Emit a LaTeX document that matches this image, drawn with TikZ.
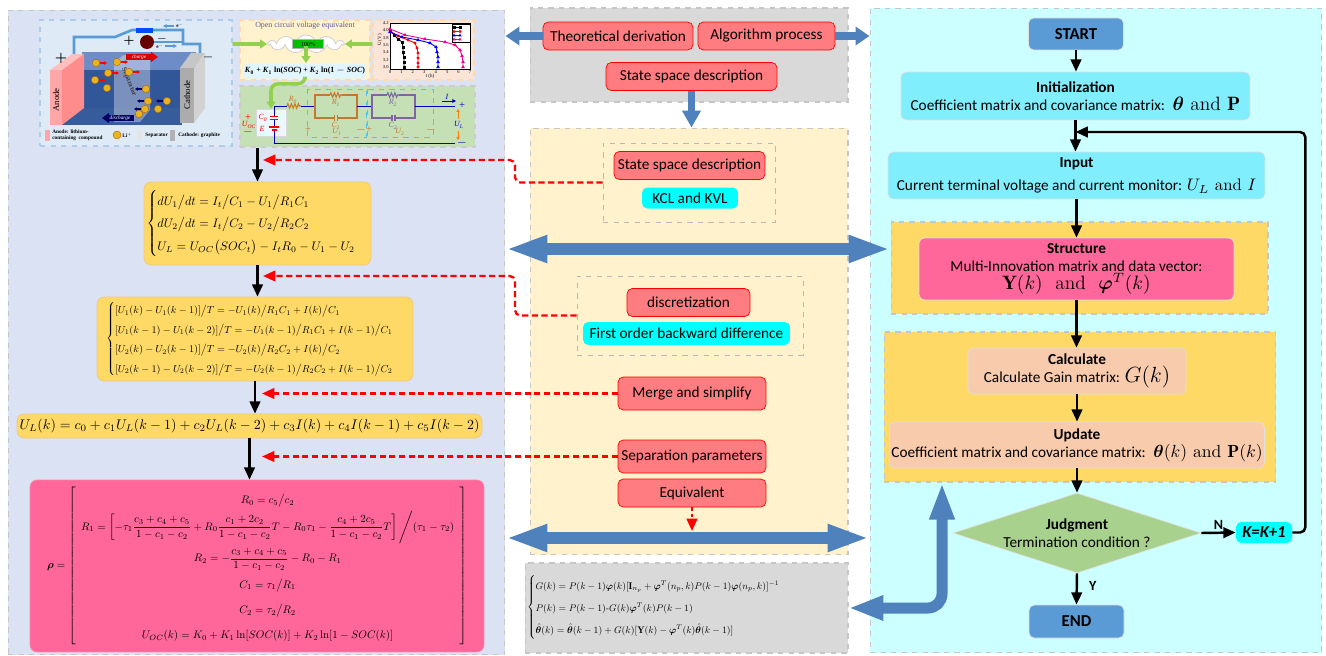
\RequirePackage{fix-cm}
\documentclass[tikz,border=0pt]{standalone}
\usepackage{amsmath}
\usepackage{bm}
\usepackage{graphicx}
\usepackage{fontspec}
\setsansfont{Carlito}
\newfontfamily\tnr{Liberation Serif}
\usetikzlibrary{arrows.meta,shapes.geometric,shapes.symbols,decorations.pathmorphing,plotmarks}
\definecolor{leftbg}{RGB}{218,226,243}
\definecolor{graybg}{RGB}{217,217,217}
\definecolor{yelbg}{RGB}{255,242,204}
\definecolor{cyanbg}{RGB}{204,255,255}
\definecolor{boxred}{RGB}{255,124,128}
\definecolor{kcl}{RGB}{0,255,255}
\definecolor{eqyel}{RGB}{255,217,102}
\definecolor{eqedge}{RGB}{240,200,130}
\definecolor{rhopink}{RGB}{255,102,153}
\definecolor{initc}{RGB}{128,238,252}
\definecolor{termc}{RGB}{91,155,213}
\definecolor{peach}{RGB}{248,203,173}
\definecolor{judg}{RGB}{169,209,142}
\definecolor{arrblue}{RGB}{79,129,189}
\definecolor{batbg}{RGB}{222,235,247}
\definecolor{plotbg}{RGB}{251,229,214}
\definecolor{circbg}{RGB}{197,224,180}
\definecolor{wireblue}{RGB}{91,155,213}
\definecolor{elecA}{RGB}{47,85,151}
\definecolor{elecB}{RGB}{110,140,200}
\definecolor{lithium}{RGB}{230,180,30}
\definecolor{leafgreen}{RGB}{146,208,80}
\definecolor{rcorange}{RGB}{197,120,50}
\definecolor{rcpurple}{RGB}{128,100,162}
\begin{document}
\begin{tikzpicture}[x=0.02cm,y=-0.02cm,
  panel/.style={draw=gray!45,dashed,line width=0.6pt},
  txt/.style={font=\sffamily\fontsize{8.7}{10.4}\selectfont},
  rbox/.style={txt,draw=red,fill=boxred,rounded corners=3pt,inner sep=1pt,minimum height=0.56cm},
  cbox/.style={txt,fill=kcl,rounded corners=3pt,inner sep=1pt,minimum height=0.42cm},
  grp/.style={draw=gray!55,dashed,line width=0.5pt},
  eqbox/.style={fill=eqyel,draw=eqedge,rounded corners=4pt,inner sep=1pt},
  fbox/.style={txt,draw=gray!25,rounded corners=3pt,align=center,inner sep=1pt},
  blk/.style={-{Triangle[length=7pt,width=6pt]},line width=1.4pt},
  rdash/.style={red,line width=1.3pt,dash pattern=on 3.5pt off 2pt,-{Triangle[length=7pt,width=6pt]}},
  thinblue/.style={draw=arrblue,line width=4.5pt,-{Triangle[length=0.28cm,width=0.36cm]}},
  fatblue/.style={draw=arrblue,line width=0.24cm,{Triangle[length=0.84cm,width=0.5cm]}-{Triangle[length=0.84cm,width=0.5cm]}},
  leaf/.style={draw=leafgreen,line width=2pt,-{Triangle[length=4pt,width=5pt]}},
  mini/.style={font=\tnr\bfseries\fontsize{3}{3.4}\selectfont,inner sep=0pt},
  cl/.style={font=\tnr\itshape\fontsize{4.5}{5}\selectfont,inner sep=0pt},
  wire/.style={draw=blue!75!black,line width=0.5pt}
]
\useasboundingbox (0,0) rectangle (1326,656);
% panels
\node[panel,fill=leftbg,minimum width=9.94cm,minimum height=12.9cm] (left) at (256.5,332.5) {};
\node[panel,fill=graybg,minimum width=6.36cm,minimum height=1.88cm] (gtop) at (689,55) {};
\node[panel,fill=yelbg,minimum width=6.36cm,minimum height=8.54cm] (mid) at (689,341.5) {};
\node[panel,fill=graybg,minimum width=6.46cm,minimum height=1.8cm] (bot) at (686.5,608) {};
\node[panel,fill=cyanbg,minimum width=9.04cm,minimum height=12.9cm] (right) at (1096,330.5) {};

% battery sketch
\node[panel,draw=wireblue!50,fill=batbg,minimum width=3.84cm,minimum height=2.52cm] (bat) at (136,83) {};
\draw[wireblue,line width=1.5pt] (74,58) |- (115,37) -- (132,30) -- (183,30) |- (200,44) -- (200,55);
\fill[blue!70!cyan] (136,27.5) rectangle (153,33);
\draw[wireblue,line width=1pt] (154,42) -- (183,42);
\fill[red!40!black] (147,42) circle[radius=0.14cm];
\node[mini,font=\bfseries\fontsize{6}{6}\selectfont] (mplus) at (129,41) {+};
\node[mini,font=\bfseries\fontsize{6}{6}\selectfont] (mminus) at (162,39) {$-$};
\node[mini] (eA) at (180,25) {e$^-$};
\draw[wireblue,line width=0.6pt,-{Triangle[length=2pt,width=2pt]}] (174,26) -- (163,26);
\node[mini] (eB) at (160,46) {e$^-$};
\draw[wireblue,line width=0.6pt,-{Triangle[length=2pt,width=2pt]}] (165,46) -- (177,46);
\fill[elecB] (82,52) rectangle (196,108);
\fill[elecA,opacity=0.95] (62,70) rectangle (182,125);
\fill[white,opacity=0.35] (114,62) -- (124,55) -- (150,55) -- (150,110) -- (140,122) -- (114,122) -- cycle;
\node[mini,font=\tnr\bfseries\fontsize{4}{4}\selectfont,rotate=-68,text=black!75] (tsep) at (129,82) {Separator};
\fill[red!25] (50,70) -- (72,54) -- (84,54) -- (62,70) -- cycle;
\fill[red!45] (62,70) -- (84,54) -- (84,108) -- (62,125) -- cycle;
\fill[red!35] (50,70) rectangle (62,125);
\node[mini,font=\tnr\fontsize{5}{5}\selectfont,rotate=90] (tan) at (56,100) {Anode};
\fill[gray!45] (180,68) -- (191,53) -- (205,53) -- (194,68) -- cycle;
\fill[gray!65] (180,68) rectangle (194,123);
\fill[gray!35] (194,68) -- (205,53) -- (205,108) -- (194,123) -- cycle;
\node[mini,font=\tnr\fontsize{5}{5}\selectfont,rotate=90] (tca) at (187,95) {Cathode};
\node[mini,font=\bfseries\fontsize{7}{7}\selectfont] (aplus) at (61,58) {+};
\node[mini,font=\bfseries\fontsize{7}{7}\selectfont] (cminus) at (208,57) {$-$};
\fill[lithium,draw=orange!70!black,line width=0.2pt] (96,63) circle[radius=0.075cm] (117,62) circle[radius=0.075cm]
  (108,73) circle[radius=0.075cm] (129,72) circle[radius=0.075cm] (95,80) circle[radius=0.075cm]
  (107,88) circle[radius=0.075cm] (146,89) circle[radius=0.075cm] (148,101) circle[radius=0.075cm]
  (167,101) circle[radius=0.075cm] (145,109) circle[radius=0.075cm] (158,109) circle[radius=0.075cm]
  (139,114) circle[radius=0.075cm];
\draw[red,line width=0.7pt,-{Triangle[length=1.6pt,width=1.8pt]}] (100,63) -- (107,63);
\draw[red,line width=0.7pt,-{Triangle[length=1.6pt,width=1.8pt]}] (121,62) -- (128,62);
\draw[red,line width=0.7pt,-{Triangle[length=1.6pt,width=1.8pt]}] (112,73) -- (119,73);
\draw[red,line width=0.7pt,-{Triangle[length=1.6pt,width=1.8pt]}] (133,72) -- (140,72);
\draw[red,line width=0.7pt,-{Triangle[length=1.6pt,width=1.8pt]}] (99,80) -- (106,80);
\draw[blue!40!black,line width=0.7pt,-{Triangle[length=1.6pt,width=1.8pt]}] (142,89) -- (135,89);
\draw[blue!40!black,line width=0.7pt,-{Triangle[length=1.6pt,width=1.8pt]}] (144,101) -- (137,101);
\draw[blue!40!black,line width=0.7pt,-{Triangle[length=1.6pt,width=1.8pt]}] (163,101) -- (156,101);
\draw[blue!40!black,line width=0.7pt,-{Triangle[length=1.6pt,width=1.8pt]}] (141,109) -- (134,109);
\draw[red!85!black,line width=3pt,-{Triangle[length=4pt,width=5.5pt]}] (126,57) -- (158,57);
\node[mini,font=\tnr\itshape\fontsize{3}{3}\selectfont,text=white] (tch) at (139,57) {charge};
\draw[blue!40!black,line width=3pt,-{Triangle[length=4pt,width=5.5pt]}] (134,118) -- (102,118);
\node[mini,font=\tnr\itshape\fontsize{3}{3}\selectfont,text=white] (tdis) at (120,118) {discharge};
\fill[red!35] (45,130) rectangle (50,141);
\node[mini,align=left,anchor=west] (lgA) at (52,135.5) {Anode: lithium-\\containing\ \ compound};
\fill[lithium,draw=orange!70!black,line width=0.2pt] (117,135) circle[radius=0.08cm];
\node[mini,anchor=west] (lgB) at (122,135) {Li$^+$};
\fill[gray!20] (137,130) rectangle (142,141);
\node[mini,anchor=west] (lgC) at (145,135) {Separator};
\fill[gray!60] (170,130) rectangle (175,141);
\node[mini,anchor=west] (lgD) at (178,135) {Cathode: graphite};

% open circuit voltage
\node[panel,draw=orange!30,fill=yelbg,minimum width=2.6cm,minimum height=1.2cm] (ocv) at (305,50) {};
\node[mini,font=\tnr\fontsize{4.5}{5}\selectfont,text=gray!70!blue] (ocvt) at (305,26) {Open circuit voltage equivalent};
\node[cloud,cloud puffs=11,aspect=4.5,fill=white,draw=gray!40,minimum width=1.5cm,minimum height=0.36cm,inner sep=0pt] (cloudn) at (306,44) {};
\node[fill=green!75!black,draw=gray!60,minimum width=0.62cm,minimum height=0.17cm,inner sep=0pt,font=\tnr\fontsize{3.5}{4}\selectfont] (cell) at (308,44) {100\%};
\node[fill=cyan!12,rounded corners=2pt,minimum width=2.44cm,minimum height=0.3cm,inner sep=0pt,font=\tnr\bfseries\fontsize{4.5}{5}\selectfont] (kform) at (305,71)
  {\textit{K}\textsubscript{0} + \textit{K}\textsubscript{1} ln(\textit{SOC}) + \textit{K}\textsubscript{2} ln(1 $-$ \textit{SOC})};

% discharge curves
\node[panel,draw=orange!30,fill=plotbg,minimum width=2.02cm,minimum height=1.2cm] (plot) at (423.5,50) {};
\draw[line width=0.3pt,fill=white] (390,23) rectangle (470,69);
\foreach \v [count=\i from 0] in {4.2,4.0,3.8,3.6,3.4,3.2,3.0}
  \node[mini,font=\tnr\fontsize{2.6}{3}\selectfont,anchor=east] (yt\i) at (389,{23+7.33*\i}) {\v};
\foreach \i in {0,...,7}
  \node[mini,font=\tnr\fontsize{2.6}{3}\selectfont] (xt\i) at ({390+11.43*\i},72) {\i};
\node[mini,font=\tnr\fontsize{2.8}{3}\selectfont,rotate=90] (ylab) at (380,40) {U (V)};
\node[mini,font=\tnr\fontsize{2.8}{3}\selectfont] (xlab) at (430,76) {t (h)};
\draw[black,line width=0.5pt] plot[mark=square*,mark size=0.6pt] coordinates {(390,30) (394,35) (398,39) (402,42) (403,47) (403,52) (404,57) (404,62) (404,67)};
\draw[red,line width=0.5pt] plot[mark=*,mark size=0.6pt] coordinates {(390,31) (398,36) (408,40) (415,43) (417,48) (418,53) (418,58) (418,63) (418,67)};
\draw[blue,line width=0.5pt] plot[mark=triangle*,mark size=0.7pt] coordinates {(390,32) (402,37) (418,40) (430,43) (436,47) (437,52) (438,57) (438,62) (438,67)};
\draw[magenta,line width=0.5pt] plot[mark=triangle*,mark size=0.7pt] coordinates {(390,29) (405,35) (425,39) (445,42) (455,45) (460,50) (462,56) (463,62) (463,67)};
\draw[line width=0.3pt,fill=white] (452,24) rectangle (470,42);
\draw[black,line width=0.4pt] plot[mark=square*,mark size=0.6pt] coordinates {(454,27.5) (460,27.5)};
\draw[red,line width=0.4pt] plot[mark=*,mark size=0.6pt] coordinates {(454,31.5) (460,31.5)};
\draw[blue,line width=0.4pt] plot[mark=triangle*,mark size=0.7pt] coordinates {(454,35.5) (460,35.5)};
\draw[magenta,line width=0.4pt] plot[mark=triangle*,mark size=0.7pt] coordinates {(454,39.5) (460,39.5)};

% equivalent circuit
\node[panel,draw=gray!40,fill=circbg,minimum width=4.7cm,minimum height=1.22cm] (circ) at (357.5,116.5) {};
\node[fill=cyan!8,draw=gray!30,minimum width=0.6cm,minimum height=0.54cm,inner sep=0pt] (c0box) at (271,122.5) {};
\draw[wire] (274,109) -- (274,106) -- (287,106);
\draw[rcorange,line width=0.6pt,decorate,decoration={zigzag,segment length=2pt,amplitude=1.3pt}] (287,106) -- (301,106);
\draw[wire] (301,106) -- (315,106);
\draw[wire] (274,109) -- (274,116.5) (274,119.5) -- (274,127) (274,130) -- (274,143) -- (455,143);
\draw[red,line width=0.6pt] (270,116.5) -- (278,116.5) (270,119.5) -- (278,119.5);
\draw[red,line width=0.6pt] (269,127) -- (279,127) (271.5,130) -- (276.5,130);
\node[cl,text=red] (lC0) at (263,118) {C\textsubscript{0}};
\node[cl,text=red] (lE) at (262,129) {E};
\node[cl,text=rcorange] (lR0) at (293,100) {R\textsubscript{0}};
\draw[cyan!70,dashed,line width=0.4pt] (307,89) rectangle (366,137);
\draw[rcorange,line width=0.6pt] (330,95) -| (315,118) -- (334.5,118) (337.5,118) -| (357,95) -- (342,95);
\draw[rcorange,line width=0.6pt,decorate,decoration={zigzag,segment length=2pt,amplitude=1.3pt}] (330,95) -- (342,95);
\draw[rcorange,line width=0.6pt] (334.5,115) -- (334.5,121) (337.5,115) -- (337.5,121);
\node[cl,text=rcorange] (lR1) at (336,103) {R\textsubscript{1}};
\node[cl,text=rcorange] (lC1) at (336,126) {C\textsubscript{1}};
\draw[wire] (357,106) -- (372,106);
\draw[cyan!70,dashed,line width=0.4pt] (367,89) rectangle (433,137);
\draw[rcpurple,line width=0.6pt] (387,95) -| (372,118) -- (392,118) (395,118) -| (415,95) -- (399,95);
\draw[rcpurple,line width=0.6pt,decorate,decoration={zigzag,segment length=2pt,amplitude=1.3pt}] (387,95) -- (399,95);
\draw[rcpurple,line width=0.6pt] (392,115) -- (392,121) (395,115) -- (395,121);
\node[cl,text=rcpurple] (lR2) at (393,103) {R\textsubscript{2}};
\node[cl,text=rcpurple] (lC2) at (393,126) {C\textsubscript{2}};
\draw[wire] (415,106) -- (455,106);
\draw[wire,-{Triangle[length=2pt,width=2pt]}] (442,101) -- (456,101);
\node[cl,text=blue!75!black] (lI) at (447,97) {I};
\node[cl,font=\tnr\fontsize{6}{6}\selectfont,text=blue!75!black] (lp) at (462,106) {+};
\node[cl,font=\tnr\fontsize{6}{6}\selectfont,text=blue!75!black] (lm) at (462,143) {$-$};
\node[cl,text=blue!75!black] (lUL) at (459,125) {U\textsubscript{L}};
\draw[orange,line width=0.5pt,-{Triangle[length=1.6pt,width=1.8pt]}] (458,119) -- (458,109);
\draw[orange,line width=0.5pt,-{Triangle[length=1.6pt,width=1.8pt]}] (458,131) -- (458,140);
\node[cl,font=\tnr\fontsize{6}{6}\selectfont,text=rcorange] (lp1) at (308,130) {+};
\node[cl,text=rcorange] (lU1) at (337,132) {U\textsubscript{1}};
\node[cl,font=\tnr\fontsize{6}{6}\selectfont,text=rcorange] (lmp) at (364,130) {$-$+};
\node[cl,text=rcorange] (lU2) at (400,132) {U\textsubscript{2}};
\node[cl,font=\tnr\fontsize{6}{6}\selectfont,text=rcorange] (lm2) at (431,130) {$-$};
\node[cl,font=\tnr\fontsize{6}{6}\selectfont,text=red] (lpo) at (248,118) {+};
\node[cl,text=red] (lUoc) at (249,125) {U\textsubscript{OC}};
\node[cl,font=\tnr\fontsize{6}{6}\selectfont,text=red] (lmo) at (248,132) {$-$};
\draw[leaf] (bat.east |- cloudn) -- (cloudn.west);
\draw[leaf] (plot.west |- cloudn) -- (cloudn.east);
\draw[leaf] (cloudn.south) -- (cloudn.south |- kform.north);
\draw[leaf,rounded corners=4pt] (kform.south) -- ++(0,5) -| (c0box.north);

% theoretical derivation
\node[eqbox,minimum width=4.54cm,minimum height=1.66cm,font=\fontsize{10}{15}\selectfont] (eq1) at (257.5,223.5)
  {\resizebox{4.44cm}{!}{$\begin{cases}dU_1\big/dt=I_t\big/C_1-U_1\big/R_1C_1\\ dU_2\big/dt=I_t\big/C_2-U_2\big/R_2C_2\\ U_L=U_{OC}\big(SOC_t\big)-I_tR_0-U_1-U_2\end{cases}$}};
\node[eqbox,minimum width=6.32cm,minimum height=1.68cm,font=\fontsize{10}{16}\selectfont] (eq2) at (255,339)
  {\resizebox{5.96cm}{!}{$\begin{cases}[U_1(k)-U_1(k-1)]\big/T=-U_1(k)\big/R_1C_1+I(k)\big/C_1\\
  [U_1(k-1)-U_1(k-2)]\big/T=-U_1(k-1)\big/R_1C_1+I(k-1)\big/C_1\\
  [U_2(k)-U_2(k-1)]\big/T=-U_2(k)\big/R_2C_2+I(k)\big/C_2\\
  [U_2(k-1)-U_2(k-2)]\big/T=-U_2(k-1)\big/R_2C_2+I(k-1)\big/C_2\end{cases}$}};
\node[eqbox,minimum width=9.3cm,minimum height=0.48cm] (eq3) at (249.5,426)
  {\resizebox{9.2cm}{!}{$U_L(k)=c_0+c_1U_L(k-1)+c_2U_L(k-2)+c_3I(k)+c_4I(k-1)+c_5I(k-2)$}};
\node[eqbox,fill=rhopink,draw=rhopink!80!white,minimum width=9.08cm,minimum height=3.44cm,font=\fontsize{10}{23}\selectfont] (eq4) at (257,566)
  {\resizebox{8.4cm}{!}{$\bm{\rho}=\left[\begin{array}{c}R_0=c_5\big/c_2\\
  R_1=\left[-\tau_1\dfrac{c_3+c_4+c_5}{1-c_1-c_2}+R_0\dfrac{c_1+2c_2}{1-c_1-c_2}T-R_0\tau_1-\dfrac{c_4+2c_5}{1-c_1-c_2}T\right]\Bigg/(\tau_1-\tau_2)\\
  R_2=-\dfrac{c_3+c_4+c_5}{1-c_1-c_2}-R_0-R_1\\
  C_1=\tau_1\big/R_1\\
  C_2=\tau_2\big/R_2\\
  U_{OC}(k)=K_0+K_1\ln[SOC(k)]+K_2\ln[1-SOC(k)]\end{array}\right]$}};

% middle column
\node[rbox,minimum width=3cm] (theo) at (618,36) {Theoretical derivation};
\node[rbox,minimum width=2.74cm] (algo) at (766.5,36) {Algorithm process};
\node[rbox,minimum width=3.42cm] (ssd) at (691.5,76.5) {State space description};
\node[grp,minimum width=3.44cm,minimum height=1.58cm] (g1) at (689,182.5) {};
\node[rbox,minimum width=3.02cm] (ssdb) at (689.5,165.5) {State space description};
\node[cbox,minimum width=1.92cm] (kvl) at (690,198) {KCL and KVL};
\node[grp,minimum width=4.52cm,minimum height=1.58cm] (g2) at (690,315.5) {};
\node[rbox,minimum width=2.46cm] (disc) at (688.5,302.5) {discretization};
\node[cbox,minimum width=4.14cm,minimum height=0.46cm] (fobd) at (686.5,333.5) {First order backward difference};
\node[rbox,minimum width=2.96cm,minimum height=0.66cm] (merge) at (692,393.5) {Merge and simplify};
\node[rbox,minimum width=2.96cm,minimum height=0.66cm] (sepa) at (692,456.5) {Separation parameters};
\node[rbox,minimum width=2.96cm] (equiv) at (692,493) {Equivalent};
\node[font=\fontsize{10}{19}\selectfont,inner sep=0pt] (gain) at (658.5,607)
  {\resizebox{5.26cm}{!}{$\begin{cases}G(k)=P(k-1)\bm{\varphi}(k)[\mathbf{I}_{n_p}+\bm{\varphi}^T(n_p,k)P(k-1)\bm{\varphi}(n_p,k)]^{-1}\\
  P(k)=P(k-1)\text{-}G(k)\bm{\varphi}^T(k)P(k-1)\\
  \hat{\bm{\theta}}(k)=\hat{\bm{\theta}}(k-1)+G(k)[\mathbf{Y}(k)-\bm{\varphi}^T(k)\hat{\bm{\theta}}(k-1)]\end{cases}$}};

% algorithm flow
\node[fbox,fill=termc,font=\sffamily\bfseries\fontsize{9.5}{11}\selectfont,minimum width=1.9cm,minimum height=0.64cm] (start) at (1076,34) {START};
\node[fbox,fill=initc,minimum width=6.98cm,minimum height=0.96cm] (init) at (1075.5,96)
  {\textbf{Initialization}\\Coefficient matrix and covariance matrix:\enspace{\fontsize{11}{11}\selectfont\rmfamily$\bm{\theta}$ and $\mathbf{P}$}};
\node[fbox,fill=initc,minimum width=7.54cm,minimum height=0.94cm] (input) at (1076.5,175.5)
  {\textbf{Input}\\[3pt]Current terminal voltage and current monitor: {\fontsize{9.5}{10}\selectfont\rmfamily$U_L$ and $I$}};
\node[panel,fill=eqyel,minimum width=7.54cm,minimum height=1.84cm] (sgrp) at (1079.5,268) {};
\node[fbox,fill=rhopink,minimum width=6.3cm,minimum height=1.24cm] (struct) at (1076.5,269)
  {\textbf{Structure}\\Multi-Innovation matrix and data vector:\\{\fontsize{11}{12}\selectfont\rmfamily$\mathbf{Y}(k)$\ \ and\ \ $\bm{\varphi}^T(k)$}};
\node[panel,fill=eqyel,minimum width=7.84cm,minimum height=3cm] (ugrp) at (1080,407) {};
\node[fbox,fill=peach,minimum width=4.36cm,minimum height=0.92cm] (calc) at (1077,371)
  {\textbf{Calculate}\\Calculate Gain matrix: {\fontsize{12.5}{12}\selectfont$G(k)$}};
\node[fbox,fill=peach,minimum width=7.44cm,minimum height=0.92cm] (upd) at (1077,445)
  {\textbf{Update}\\Coefficient matrix and covariance matrix:\enspace{\fontsize{10}{10}\selectfont\rmfamily$\bm{\theta}(k)$ and $\mathbf{P}(k)$}};
\node[diamond,fill=judg,draw=gray!25,aspect=3.1,inner sep=0pt,minimum width=4.96cm,minimum height=1.6cm] (judge) at (1077,533) {};
\node[txt,align=center] (judgeT) at (judge) {\textbf{Judgment}\\Termination condition ?};
\node[fbox,fill=kcl,draw=none,font=\sffamily\bfseries\itshape\fontsize{9.5}{11}\selectfont,minimum width=1.12cm,minimum height=0.42cm] (kk) at (1264,532.5) {K=K+1};
\node[fbox,fill=termc,font=\sffamily\bfseries\fontsize{9.5}{11}\selectfont,minimum width=1.9cm,minimum height=0.66cm] (endn) at (1076.5,621.5) {END};

% connectors
\draw[blk] (circ.south -| eq1.north) -- (eq1.north);
\draw[blk] (eq1.south) -- (eq1.south |- eq2.north);
\draw[blk] (eq2.south) -- (eq2.south |- eq3.north);
\draw[blk] (eq3.south) -- (eq3.south |- eq4.north);
\coordinate (r1) at (263,160);
\coordinate (r2) at (263,276);
\coordinate (r3) at (262,393.5);
\coordinate (r4) at (262,456.5);
\coordinate (eqv) at (692,531);
\draw[rdash,rounded corners=3pt] (g1.west) -| (515,160) -- (r1);
\draw[rdash,rounded corners=3pt] (g2.west) -| (515,276) -- (r2);
\draw[rdash] (merge.west) -- (r3);
\draw[rdash] (sepa.west) -- (r4);
\draw[rdash,dash pattern=on 2pt off 1.5pt] (equiv.south) -- (eqv);
\draw[thinblue] (theo.west) -- (theo.west -| left.east);
\draw[thinblue] (algo.east) -- (algo.east -| right.west);
\draw[thinblue,line width=3.8pt,-{Triangle[length=0.34cm,width=0.36cm]}] (ssd.south) -- (ssd.south |- mid.north);
\draw[fatblue] (left.east |- 0,249) -- (sgrp.west |- 0,249);
\draw[fatblue] (left.east |- 0,538) -- (right.west |- 0,538);
\coordinate (lup) at (ugrp.south -| 942,0);
\draw[draw=arrblue,line width=0.22cm,rounded corners=8pt,{Triangle[length=0.7cm,width=0.46cm]}-{Triangle[length=0.74cm,width=0.46cm]}] (bot.east |- 0,608) -| (lup);
\draw[blk] (start.south) -- (start.south |- init.north);
\draw[blk] (init.south) -- (init.south |- input.north);
\draw[blk] (input.south) -- (input.south |- struct.north);
\draw[blk] (struct.south) -- (struct.south |- calc.north);
\draw[blk] (calc) -- (upd);
\draw[blk] (upd) -- (judge);
\draw[blk] (judge.east) -- node[above,txt,font=\sffamily\bfseries\fontsize{8}{9}\selectfont,inner sep=1pt] (lN) {N} (kk.west);
\draw[blk] (judge.south) -- node[right=3pt,pos=0.4,txt,font=\sffamily\bfseries\fontsize{8}{9}\selectfont] (lY) {Y} (endn.north);
\coordinate (join) at (init.south |- 0,132);
\draw[blk,rounded corners=3pt] (kk.east) -- ++(13,0) |- (join);
\end{tikzpicture}
\end{document}
